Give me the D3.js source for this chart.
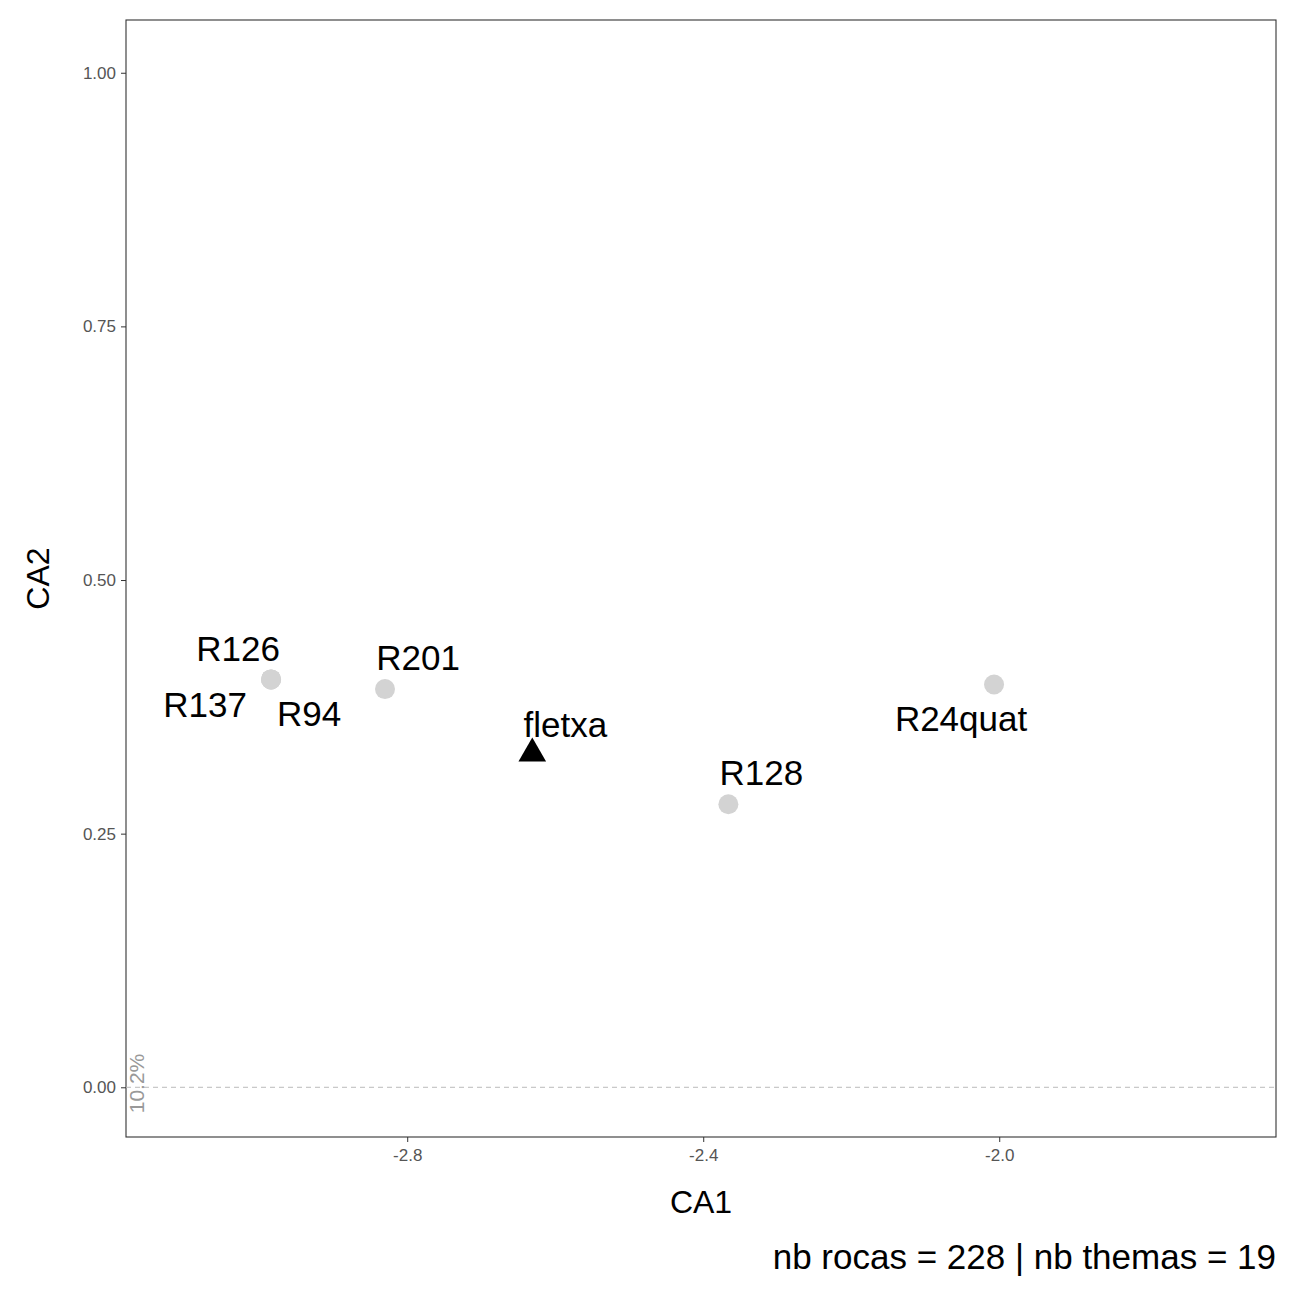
<!DOCTYPE html>
<html><head><meta charset="utf-8">
<script src="https://cdn.jsdelivr.net/npm/d3@7"></script>
<style>body{margin:0;background:#fff}text{font-family:Arial,"Liberation Sans",sans-serif}</style>
</head><body><svg id="c"></svg>
<script>
// data
const names = ["R126", "R137", "R94", "R201", "fletxa", "R128", "R24quat"];
const ca1 = [-2.984, -2.984, -2.984, -2.830, -2.631, -2.366, -2.007];
const ca2 = [0.402, 0.402, 0.402, 0.3925, 0.329, 0.279, 0.397];
const kind = ["roca", "roca", "roca", "roca", "thema", "roca", "roca"];
const xTicks = [-2.8, -2.4, -2.0];
const yTicks = [0, 0.25, 0.5, 0.75, 1.0];

// label nudges (pixels), mimicking the repelled labels
const labelDx = [-33, -66, 38, 33, 33, 33, -33];
const labelDy = [-31, 25, 34, -31, -29, -31, 34];

const W = 1299, H = 1299;
const M = {top: 20, right: 23, bottom: 162, left: 126};

const svg = d3.select("#c").attr("width", W).attr("height", H);

const x = d3.scaleLinear().domain([-3.18, -1.626]).range([M.left, W - M.right]);
const y = d3.scaleLinear().domain([-0.049, 1.052]).range([H - M.bottom, M.top]);

//panel border
svg.append("rect")
    .attr("x", M.left).attr("y", M.top)
    .attr("width", W - M.left - M.right).attr("height", H - M.top - M.bottom)
    .attr("fill", "none").attr("stroke", "#333").attr("stroke-width", 1.1);

//axes
const fmtX = d => d3.format(".1f")(d).replace("\u2212", "-");
const xAxis = svg.append("g")
    .attr("transform", `translate(0,${H - M.bottom})`)
    .call(d3.axisBottom(x).tickValues(xTicks).tickFormat(fmtX).tickSize(5).tickPadding(4));
const yAxis = svg.append("g")
    .attr("transform", `translate(${M.left},0)`)
    .call(d3.axisLeft(y).tickValues(yTicks).tickFormat(d3.format(".2f")).tickSize(5).tickPadding(5));
[xAxis, yAxis].forEach(a => {
    a.select(".domain").remove();
    a.selectAll("line").attr("stroke", "#333");
    a.selectAll("text").attr("fill", "#555").style("font-size", "17px");
});
xAxis.selectAll("text").attr("dy", "0.9em");

//zero line
svg.append("line")
    .attr("x1", M.left).attr("x2", W - M.right)
    .attr("y1", y(0)).attr("y2", y(0))
    .attr("stroke", "#bbb").attr("stroke-dasharray", "5,4");
svg.append("text")
    .attr("transform", `translate(${M.left + 18},${y(0) + 26}) rotate(-90)`)
    .attr("fill", "#999").style("font-size", "21px")
    .text("10.2%");

//titles
svg.append("text").attr("x", (M.left + W - M.right) / 2).attr("y", 1213)
    .attr("text-anchor", "middle").style("font-size", "32px").text("CA1");
svg.append("text").attr("transform", `translate(49,${(M.top + H - M.bottom) / 2}) rotate(-90)`)
    .attr("text-anchor", "middle").style("font-size", "32px").text("CA2");
svg.append("text").attr("x", W - M.right).attr("y", 1269)
    .attr("text-anchor", "end").style("font-size", "35px").text("nb rocas = 228 | nb themas = 19");

//points
const pts = names.map((n, i) => ({n, x: ca1[i], y: ca2[i], k: kind[i], dx: labelDx[i], dy: labelDy[i]}));
svg.selectAll(".pt").data(pts.filter(d => d.k === "roca")).enter()
    .append("circle").attr("class", "pt")
    .attr("cx", d => x(d.x)).attr("cy", d => y(d.y)).attr("r", 10)
    .attr("fill", "#d3d3d3");
svg.selectAll(".tri").data(pts.filter(d => d.k === "thema")).enter()
    .append("path").attr("class", "tri")
    .attr("transform", d => `translate(${x(d.x)},${y(d.y)})`)
    .attr("d", d3.symbol(d3.symbolTriangle, 330))
    .attr("fill", "#000");

//labels
svg.selectAll(".lbl").data(pts).enter()
    .append("text").attr("class", "lbl")
    .attr("x", d => x(d.x) + d.dx).attr("y", d => y(d.y) + d.dy)
    .attr("dy", "0.35em").attr("text-anchor", "middle")
    .style("font-size", "35px").text(d => d.n);
</script>
</body></html>
